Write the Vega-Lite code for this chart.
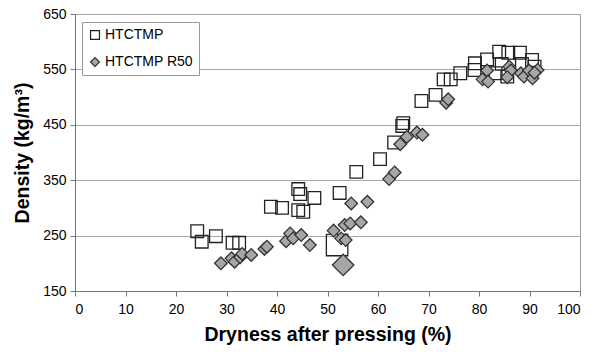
{
  "$schema": "https://vega.github.io/schema/vega-lite/v6.json",
  "width": 505,
  "height": 277,
  "autosize": "none",
  "padding": {"left": 75, "top": 14, "right": 16, "bottom": 68},
  "background": "white",
  "config": {
    "font": "Liberation Sans",
    "view": {"stroke": "#9a9a9a", "strokeWidth": 1},
    "axis": {
      "labelFont": "Liberation Sans",
      "labelFontSize": 14,
      "labelColor": "#000",
      "titleFont": "Liberation Sans",
      "titleFontSize": 19.5,
      "titleFontWeight": "bold",
      "titleColor": "#000",
      "domainColor": "#777",
      "tickColor": "#777",
      "tickSize": 5
    },
    "legend": {
      "labelFont": "Liberation Sans",
      "labelFontSize": 14,
      "labelColor": "#000"
    }
  },
  "datasets": {
    "points": [
      {"series": "HTCTMP", "kind": "sample", "dryness": 24.2, "density": 258},
      {"series": "HTCTMP", "kind": "sample", "dryness": 25.1, "density": 239},
      {"series": "HTCTMP", "kind": "sample", "dryness": 27.9, "density": 249},
      {"series": "HTCTMP", "kind": "sample", "dryness": 31.2, "density": 237},
      {"series": "HTCTMP", "kind": "sample", "dryness": 32.5, "density": 237},
      {"series": "HTCTMP", "kind": "sample", "dryness": 38.8, "density": 302},
      {"series": "HTCTMP", "kind": "sample", "dryness": 41.0, "density": 300},
      {"series": "HTCTMP", "kind": "sample", "dryness": 44.2, "density": 334},
      {"series": "HTCTMP", "kind": "sample", "dryness": 44.6, "density": 325},
      {"series": "HTCTMP", "kind": "sample", "dryness": 47.4, "density": 318},
      {"series": "HTCTMP", "kind": "sample", "dryness": 44.2, "density": 296},
      {"series": "HTCTMP", "kind": "sample", "dryness": 45.2, "density": 293},
      {"series": "HTCTMP", "kind": "sample", "dryness": 52.4, "density": 327},
      {"series": "HTCTMP", "kind": "reference", "dryness": 51.9, "density": 233},
      {"series": "HTCTMP", "kind": "sample", "dryness": 55.7, "density": 365},
      {"series": "HTCTMP", "kind": "sample", "dryness": 60.4, "density": 388},
      {"series": "HTCTMP", "kind": "sample", "dryness": 63.2, "density": 418},
      {"series": "HTCTMP", "kind": "sample", "dryness": 64.8, "density": 448},
      {"series": "HTCTMP", "kind": "sample", "dryness": 65.0, "density": 453},
      {"series": "HTCTMP", "kind": "sample", "dryness": 68.6, "density": 493},
      {"series": "HTCTMP", "kind": "sample", "dryness": 71.4, "density": 504},
      {"series": "HTCTMP", "kind": "sample", "dryness": 73.0, "density": 532},
      {"series": "HTCTMP", "kind": "sample", "dryness": 74.4, "density": 532},
      {"series": "HTCTMP", "kind": "sample", "dryness": 76.3, "density": 543},
      {"series": "HTCTMP", "kind": "sample", "dryness": 79.1, "density": 549},
      {"series": "HTCTMP", "kind": "sample", "dryness": 79.2, "density": 561},
      {"series": "HTCTMP", "kind": "sample", "dryness": 81.6, "density": 568},
      {"series": "HTCTMP", "kind": "sample", "dryness": 83.3, "density": 543},
      {"series": "HTCTMP", "kind": "sample", "dryness": 84.0, "density": 582},
      {"series": "HTCTMP", "kind": "sample", "dryness": 84.5, "density": 560},
      {"series": "HTCTMP", "kind": "sample", "dryness": 85.8, "density": 580},
      {"series": "HTCTMP", "kind": "sample", "dryness": 85.6, "density": 537},
      {"series": "HTCTMP", "kind": "sample", "dryness": 88.1, "density": 580},
      {"series": "HTCTMP", "kind": "sample", "dryness": 88.5, "density": 560},
      {"series": "HTCTMP", "kind": "sample", "dryness": 90.5, "density": 567},
      {"series": "HTCTMP", "kind": "sample", "dryness": 91.0, "density": 555},
      {"series": "HTCTMP R50", "kind": "sample", "dryness": 28.9, "density": 200},
      {"series": "HTCTMP R50", "kind": "sample", "dryness": 31.0, "density": 209},
      {"series": "HTCTMP R50", "kind": "sample", "dryness": 31.6, "density": 203},
      {"series": "HTCTMP R50", "kind": "sample", "dryness": 32.7, "density": 211},
      {"series": "HTCTMP R50", "kind": "sample", "dryness": 33.1, "density": 217},
      {"series": "HTCTMP R50", "kind": "sample", "dryness": 34.9, "density": 215},
      {"series": "HTCTMP R50", "kind": "sample", "dryness": 37.5, "density": 226},
      {"series": "HTCTMP R50", "kind": "sample", "dryness": 38.0, "density": 230},
      {"series": "HTCTMP R50", "kind": "sample", "dryness": 41.8, "density": 240},
      {"series": "HTCTMP R50", "kind": "sample", "dryness": 42.6, "density": 254},
      {"series": "HTCTMP R50", "kind": "sample", "dryness": 43.2, "density": 245},
      {"series": "HTCTMP R50", "kind": "sample", "dryness": 44.8, "density": 251},
      {"series": "HTCTMP R50", "kind": "sample", "dryness": 46.5, "density": 233},
      {"series": "HTCTMP R50", "kind": "sample", "dryness": 51.2, "density": 259},
      {"series": "HTCTMP R50", "kind": "sample", "dryness": 52.7, "density": 245},
      {"series": "HTCTMP R50", "kind": "sample", "dryness": 53.6, "density": 242},
      {"series": "HTCTMP R50", "kind": "reference", "dryness": 53.1, "density": 197},
      {"series": "HTCTMP R50", "kind": "sample", "dryness": 53.4, "density": 269},
      {"series": "HTCTMP R50", "kind": "sample", "dryness": 54.5, "density": 272},
      {"series": "HTCTMP R50", "kind": "sample", "dryness": 56.6, "density": 274},
      {"series": "HTCTMP R50", "kind": "sample", "dryness": 54.7, "density": 308},
      {"series": "HTCTMP R50", "kind": "sample", "dryness": 57.9, "density": 311},
      {"series": "HTCTMP R50", "kind": "sample", "dryness": 62.2, "density": 352},
      {"series": "HTCTMP R50", "kind": "sample", "dryness": 63.3, "density": 364},
      {"series": "HTCTMP R50", "kind": "sample", "dryness": 64.4, "density": 415},
      {"series": "HTCTMP R50", "kind": "sample", "dryness": 65.7, "density": 428},
      {"series": "HTCTMP R50", "kind": "sample", "dryness": 67.7, "density": 436},
      {"series": "HTCTMP R50", "kind": "sample", "dryness": 68.8, "density": 432},
      {"series": "HTCTMP R50", "kind": "sample", "dryness": 73.5, "density": 490},
      {"series": "HTCTMP R50", "kind": "sample", "dryness": 73.9, "density": 496},
      {"series": "HTCTMP R50", "kind": "sample", "dryness": 80.7, "density": 532},
      {"series": "HTCTMP R50", "kind": "sample", "dryness": 81.6, "density": 548},
      {"series": "HTCTMP R50", "kind": "sample", "dryness": 81.8, "density": 528},
      {"series": "HTCTMP R50", "kind": "sample", "dryness": 86.0, "density": 555},
      {"series": "HTCTMP R50", "kind": "sample", "dryness": 86.3, "density": 548},
      {"series": "HTCTMP R50", "kind": "sample", "dryness": 85.6, "density": 536},
      {"series": "HTCTMP R50", "kind": "sample", "dryness": 88.3, "density": 543},
      {"series": "HTCTMP R50", "kind": "sample", "dryness": 88.9, "density": 537},
      {"series": "HTCTMP R50", "kind": "sample", "dryness": 89.9, "density": 548},
      {"series": "HTCTMP R50", "kind": "sample", "dryness": 90.6, "density": 534},
      {"series": "HTCTMP R50", "kind": "sample", "dryness": 91.6, "density": 549},
      {"series": "HTCTMP R50", "kind": "sample", "dryness": 91.0, "density": 544}
    ]
  },
  "data": {"name": "points"},
  "mark": {"type": "point", "filled": true, "strokeWidth": 1.3, "opacity": 1, "clip": true},
  "encoding": {
    "x": {
      "field": "dryness", "type": "quantitative",
      "title": "Dryness after pressing (%)",
      "scale": {"domain": [0, 100], "nice": false},
      "axis": {"values": [0, 10, 20, 30, 40, 50, 60, 70, 80, 90, 100], "grid": false, "labelPadding": 6, "titlePadding": 9}
    },
    "y": {
      "field": "density", "type": "quantitative",
      "title": "Density (kg/m³)",
      "scale": {"domain": [150, 650], "nice": false, "zero": false},
      "axis": {"values": [150, 250, 350, 450, 550, 650], "grid": true, "gridColor": "#a8a8a8", "gridWidth": 1, "labelPadding": 4, "titlePadding": 10}
    },
    "shape": {
      "field": "series", "type": "nominal",
      "scale": {"domain": ["HTCTMP", "HTCTMP R50"], "range": ["square", "diamond"]},
      "legend": {
        "title": null, "orient": "none", "legendX": 7, "legendY": 8,
        "strokeColor": "#999", "fillColor": "white", "padding": 6,
        "symbolSize": 80, "symbolStrokeWidth": 1.2,
        "rowPadding": 13, "labelOffset": 3, "labelFontSize": 14
      }
    },
    "fill": {
      "field": "series", "type": "nominal",
      "scale": {"domain": ["HTCTMP", "HTCTMP R50"], "range": ["transparent", "#a6a6a6"]},
      "legend": {
        "title": null, "orient": "none", "legendX": 7, "legendY": 8,
        "strokeColor": "#999", "fillColor": "white", "padding": 6,
        "symbolSize": 80, "symbolStrokeWidth": 1.2,
        "rowPadding": 13, "labelOffset": 3, "labelFontSize": 14
      }
    },
    "stroke": {
      "field": "series", "type": "nominal",
      "scale": {"domain": ["HTCTMP", "HTCTMP R50"], "range": ["#222222", "#333333"]},
      "legend": {
        "title": null, "orient": "none", "legendX": 7, "legendY": 8,
        "strokeColor": "#999", "fillColor": "white", "padding": 6,
        "symbolSize": 80, "symbolStrokeWidth": 1.2,
        "rowPadding": 13, "labelOffset": 3, "labelFontSize": 14
      }
    },
    "size": {
      "field": "kind", "type": "nominal",
      "scale": {"domain": ["sample", "reference"], "range": [160, 460]},
      "legend": null
    }
  }
}
